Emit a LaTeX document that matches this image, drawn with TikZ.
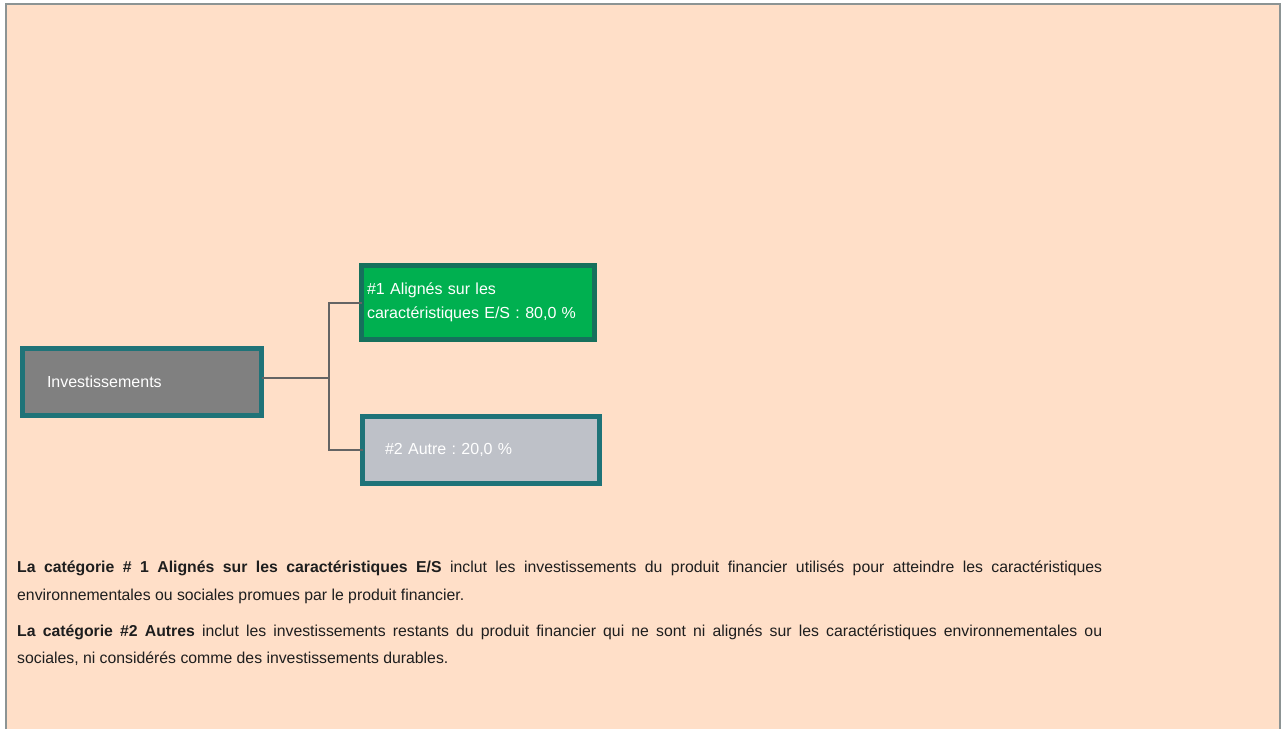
\documentclass[tikz,border=0pt]{standalone}
\usepackage{fontspec}
\setmainfont{Liberation Sans}
\usetikzlibrary{positioning}
\frenchspacing

\definecolor{peach}{RGB}{255,223,200}
\definecolor{framegray}{RGB}{140,148,148}
\definecolor{tealedge}{RGB}{31,115,120}
\definecolor{greenedge}{RGB}{22,112,92}
\definecolor{esgreen}{RGB}{0,176,80}
\definecolor{invgray}{RGB}{128,128,128}
\definecolor{othergray}{RGB}{190,193,200}
\definecolor{linkgray}{RGB}{100,100,100}
\definecolor{bodytext}{RGB}{30,30,30}

\tikzset{
  catbox/.style={draw=tealedge, line width=5pt, text=white, align=left,
    font=\fontsize{16}{24}\selectfont, outer sep=0pt, inner ysep=0pt},
  link/.style={draw=linkgray, line width=2pt},
  bodyline/.style={anchor=mid west, inner sep=0pt, text=bodytext,
    font=\fontsize{15.8}{19}\selectfont}
}

\begin{document}
\begin{tikzpicture}[x=1pt,y=-1pt]
  \useasboundingbox (0,0) rectangle (1284,729);
  \fill[white] (0,0) rectangle (1284,729);
  \fill[peach] (6,4) rectangle (1280,729);
  \draw[framegray,line width=2.5pt] (6,729) -- (6,4) -- (1280,4) -- (1280,729);

  \node[catbox, fill=invgray, text width=190pt, inner xsep=24.5pt,
    minimum height=67pt] (inv) at (142,382) {Investissements};
  \node[catbox, fill=esgreen, draw=greenedge, text width=222pt, inner xsep=5.5pt,
    minimum height=74pt] (aligned) at (478,302.5)
    {\#1 Alignés sur les\\caractéristiques E/S : 80,0 \%};
  \node[catbox, fill=othergray, text width=192pt, inner xsep=22.5pt,
    minimum height=67pt] (other) at (481,450) {\raisebox{2pt}{\#2 Autre : 20,0 \%}};

  \coordinate (fork) at (329,378);
  \draw[link] (inv.east |- fork) -- (fork);
  \draw[link] (aligned.west) -| (fork);
  \draw[link] (other.west) -| (fork);

  \node[bodyline] (p1a) at (17,570) {\makebox[1085pt][s]{\textbf{La catégorie \# 1 Alignés sur les caractéristiques E/S} inclut les investissements du produit financier utilisés pour atteindre les caractéristiques}};
  \node[bodyline] (p1b) at (17,598) {environnementales ou sociales promues par le produit financier.};
  \node[bodyline] (p2a) at (17,634) {\makebox[1085pt][s]{\textbf{La catégorie \#2 Autres} inclut les investissements restants du produit financier qui ne sont ni alignés sur les caractéristiques environnementales ou}};
  \node[bodyline] (p2b) at (17,661) {sociales, ni considérés comme des investissements durables.};
\end{tikzpicture}
\end{document}
